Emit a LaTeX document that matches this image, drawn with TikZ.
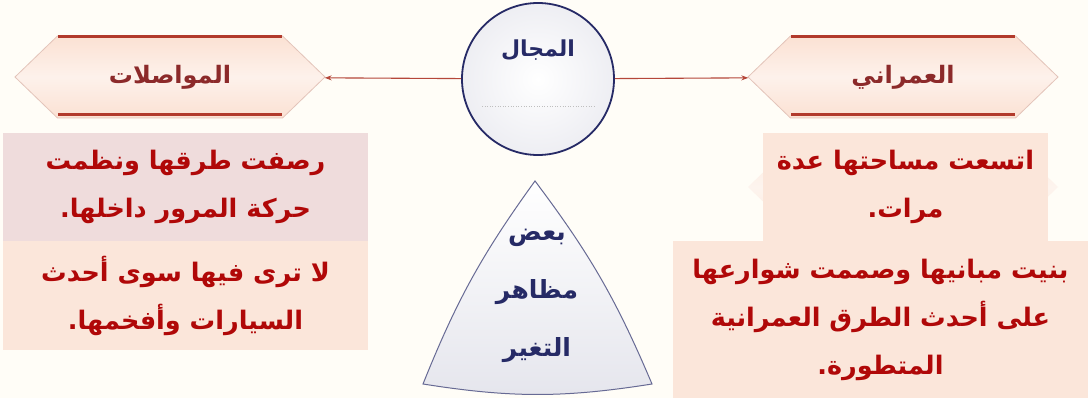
\documentclass[tikz,border=0pt]{standalone}
\usepackage{fontspec}
\usepackage{tikz}
\usetikzlibrary{shapes.symbols, arrows.meta, positioning, calc}
\newfontfamily\arabicfont[Script=Arabic]{DejaVu Sans}
\TeXXeTstate=1
\newcommand{\ar}[1]{\beginR#1\endR}
\definecolor{bgcol}{HTML}{FFFDF7}
\definecolor{hexfill}{HTML}{FBE1D3}
\definecolor{hexline}{HTML}{E3C4BA}
\definecolor{hexbar}{HTML}{B23A2C}
\definecolor{hextext}{HTML}{8C2A2A}
\definecolor{navy}{HTML}{262A66}
\definecolor{mauve}{HTML}{EFDCDC}
\definecolor{peach}{HTML}{FBE6DA}
\definecolor{redtext}{HTML}{B00808}
\definecolor{arrowcol}{HTML}{B5473A}
\tikzstyle{hexa} = [signal, signal to=east and west, signal pointer angle=88, minimum width=310pt, minimum height=82pt, inner sep=0pt, draw=hexline, line width=0.8pt, top color=hexfill, bottom color=hexfill, middle color=white!55!hexfill, text=hextext, font=\arabicfont\bfseries\fontsize{24}{28}\selectfont]
\tikzstyle{bar} = [hexbar, line width=3pt]
\tikzstyle{navytxt} = [text=navy, align=center, font=\arabicfont\bfseries\fontsize{22}{58}\selectfont]
\tikzstyle{txtbox} = [rectangle, inner sep=0pt, outer sep=0pt, text=redtext, align=center, font=\arabicfont\bfseries\fontsize{25.5}{48}\selectfont]
\tikzstyle{arrow} = [arrowcol, line width=1.1pt, -{Stealth[length=7pt,width=5pt]}]

\begin{document}
\begin{tikzpicture}[x=1pt, y=-1pt]
  \useasboundingbox (0,0) rectangle (1088,398);
  \fill[bgcol] (0,0) rectangle (1088,398);

  % Top row: the two fields and the centre
  \node[hexa] (muwas) at (170,77) {\ar{المواصلات}};
  \node[hexa] (umrani) at (903,77) {\ar{العمراني}};
  \foreach \h in {muwas, umrani} {
    \draw[bar] ($(\h.center)+(-112,-40)$) -- ++(224,0);
    \draw[bar] ($(\h.center)+(-112,38)$) -- ++(224,0);
  }

  \node[circle, minimum size=152pt, inner sep=0pt, draw=navy, line width=1.8pt, inner color=white, outer color=navy!8] (majal) at (538,79) {};
  \node[navytxt] (majaltxt) at ($(majal.center)+(0,-29)$) {\ar{المجال}};
  \draw[gray!50, dotted, line width=0.6pt] ($(majal.center)+(-56,27)$) -- ($(majal.center)+(56,27)$);

  % Flows
  \draw[arrow] (majal) -- (muwas);
  \draw[arrow] (majal) -- (umrani);

  % Triangle
  \coordinate (ta) at (535,181);
  \coordinate (tb) at (423,384);
  \coordinate (tc) at (652,384);
  \draw[navy!70, line width=1pt, top color=white, bottom color=navy!12] (ta) to[bend right=7] (tb) to[bend right=9] (tc) to[bend right=7] cycle;
  \node[navytxt, font=\arabicfont\bfseries\fontsize{25}{58}\selectfont] (taghyir) at (537,296) {\ar{بعض}\\\ar{مظاهر}\\\ar{التغير}};

  % Left boxes
  \node[txtbox, fill=mauve, minimum width=365pt, minimum height=108pt] (ltop) at (185.5,187) {\ar{رصفت طرقها ونظمت}\\\ar{حركة المرور داخلها.}};
  \node[txtbox, fill=peach, minimum width=365pt, minimum height=109pt, below=0pt of ltop] (lbot) {\ar{لا ترى فيها سوى أحدث}\\\ar{السيارات وأفخمها.}};

  % Right boxes
  \node[hexa, draw=none, opacity=0.7] (ghost) at (903,187) {};
  \node[txtbox, fill=peach, minimum width=285pt, minimum height=108pt] (rtop) at (905.5,187) {\ar{اتسعت مساحتها عدة}\\\ar{مرات.}};
  \node[txtbox, fill=peach, minimum width=415pt, minimum height=157pt, anchor=north east] (rbot) at (1088,241) {\ar{بنيت مبانيها وصممت شوارعها}\\\ar{على أحدث الطرق العمرانية}\\\ar{المتطورة.}};
\end{tikzpicture}
\end{document}
